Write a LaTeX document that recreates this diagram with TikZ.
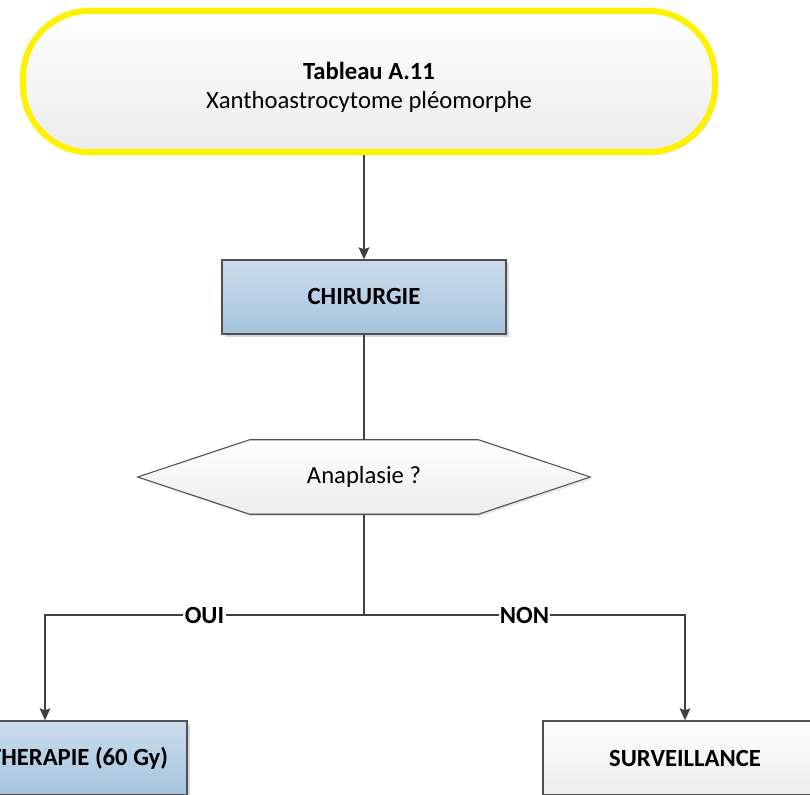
\documentclass[tikz,border=0pt]{standalone}
\usepackage{fontspec}
\setmainfont{Carlito}
\usetikzlibrary{arrows.meta,shadows,calc,backgrounds}
\definecolor{linegray}{HTML}{404040}
\definecolor{boxedge}{HTML}{505050}
\definecolor{bluetop}{HTML}{CADCEC}
\definecolor{bluebot}{HTML}{A6C4DF}
\definecolor{graybot}{HTML}{ECECEC}
\tikzset{
  base/.style={font=\fontsize{18.5}{21.5}\selectfont, align=center, inner sep=0pt},
  termbox/.style={base, draw=yellow, line width=4.5pt, rounded corners=50pt,
    top color=white, bottom color=graybot, minimum width=519pt, minimum height=106pt,
    drop shadow={opacity=0.25, shadow xshift=2pt, shadow yshift=-2pt}},
  bluebox/.style={base, draw=boxedge, line width=1pt, top color=bluetop, bottom color=bluebot,
    minimum width=213pt, minimum height=55.5pt, font=\fontsize{18.5}{21.5}\selectfont\bfseries,
    drop shadow={opacity=0.3, shadow xshift=2pt, shadow yshift=-2pt}},
  graybox/.style={bluebox, top color=white, bottom color=graybot},
  hexbox/.style={base, minimum width=339pt, minimum height=55.5pt},
  hexfill/.style={draw=boxedge, line width=0.8pt, top color=white, bottom color=graybot,
    drop shadow={opacity=0.2, shadow xshift=1.5pt, shadow yshift=-1.5pt}},
  conn/.style={draw=linegray, line width=1.3pt},
  arr/.style={conn, -{Stealth[length=9pt, width=8pt, inset=1.5pt]}},
  lbl/.style={base, fill=white, inner xsep=1pt, inner ysep=1pt, font=\fontsize{18.5}{21.5}\selectfont\bfseries}
}
\begin{document}
\begin{tikzpicture}[x=0.75pt, y=-0.75pt]
\useasboundingbox (0,0) rectangle (810,795);
\clip (0,0) rectangle (810,795);
\node[termbox] (term) at (369,81.5) {\rule{0pt}{22pt}\textbf{Tableau A.11}\\Xanthoastrocytome pléomorphe};
\node[bluebox] (chir) at (364,297) {CHIRURGIE};
\node[hexbox] (dec) at (364,477) {Anaplasie ?};
\begin{pgfonlayer}{background}
\path[hexfill] (dec.west) -- ($(dec.north west)+(112,0)$) -- ($(dec.north east)+(-112,0)$)
  -- (dec.east) -- ($(dec.south east)+(-112,0)$) -- ($(dec.south west)+(112,0)$) -- cycle;
\end{pgfonlayer}
\node[bluebox] (radio) at (45,758) {RADIOTHERAPIE (60 Gy)};
\node[graybox] (surv) at (685,758) {SURVEILLANCE};
\coordinate (junc) at (364,615);
\draw[arr] (chir.north |- term.south) -- (chir.north);
\draw[conn] (chir.south) -- (dec.north);
\draw[conn] (dec.south) -- (junc);
\draw[arr] (junc) -| node[lbl, pos=0.25] {OUI} (radio.north);
\draw[arr] (junc) -| node[lbl, pos=0.25] {NON} (surv.north);
\end{tikzpicture}
\end{document}
